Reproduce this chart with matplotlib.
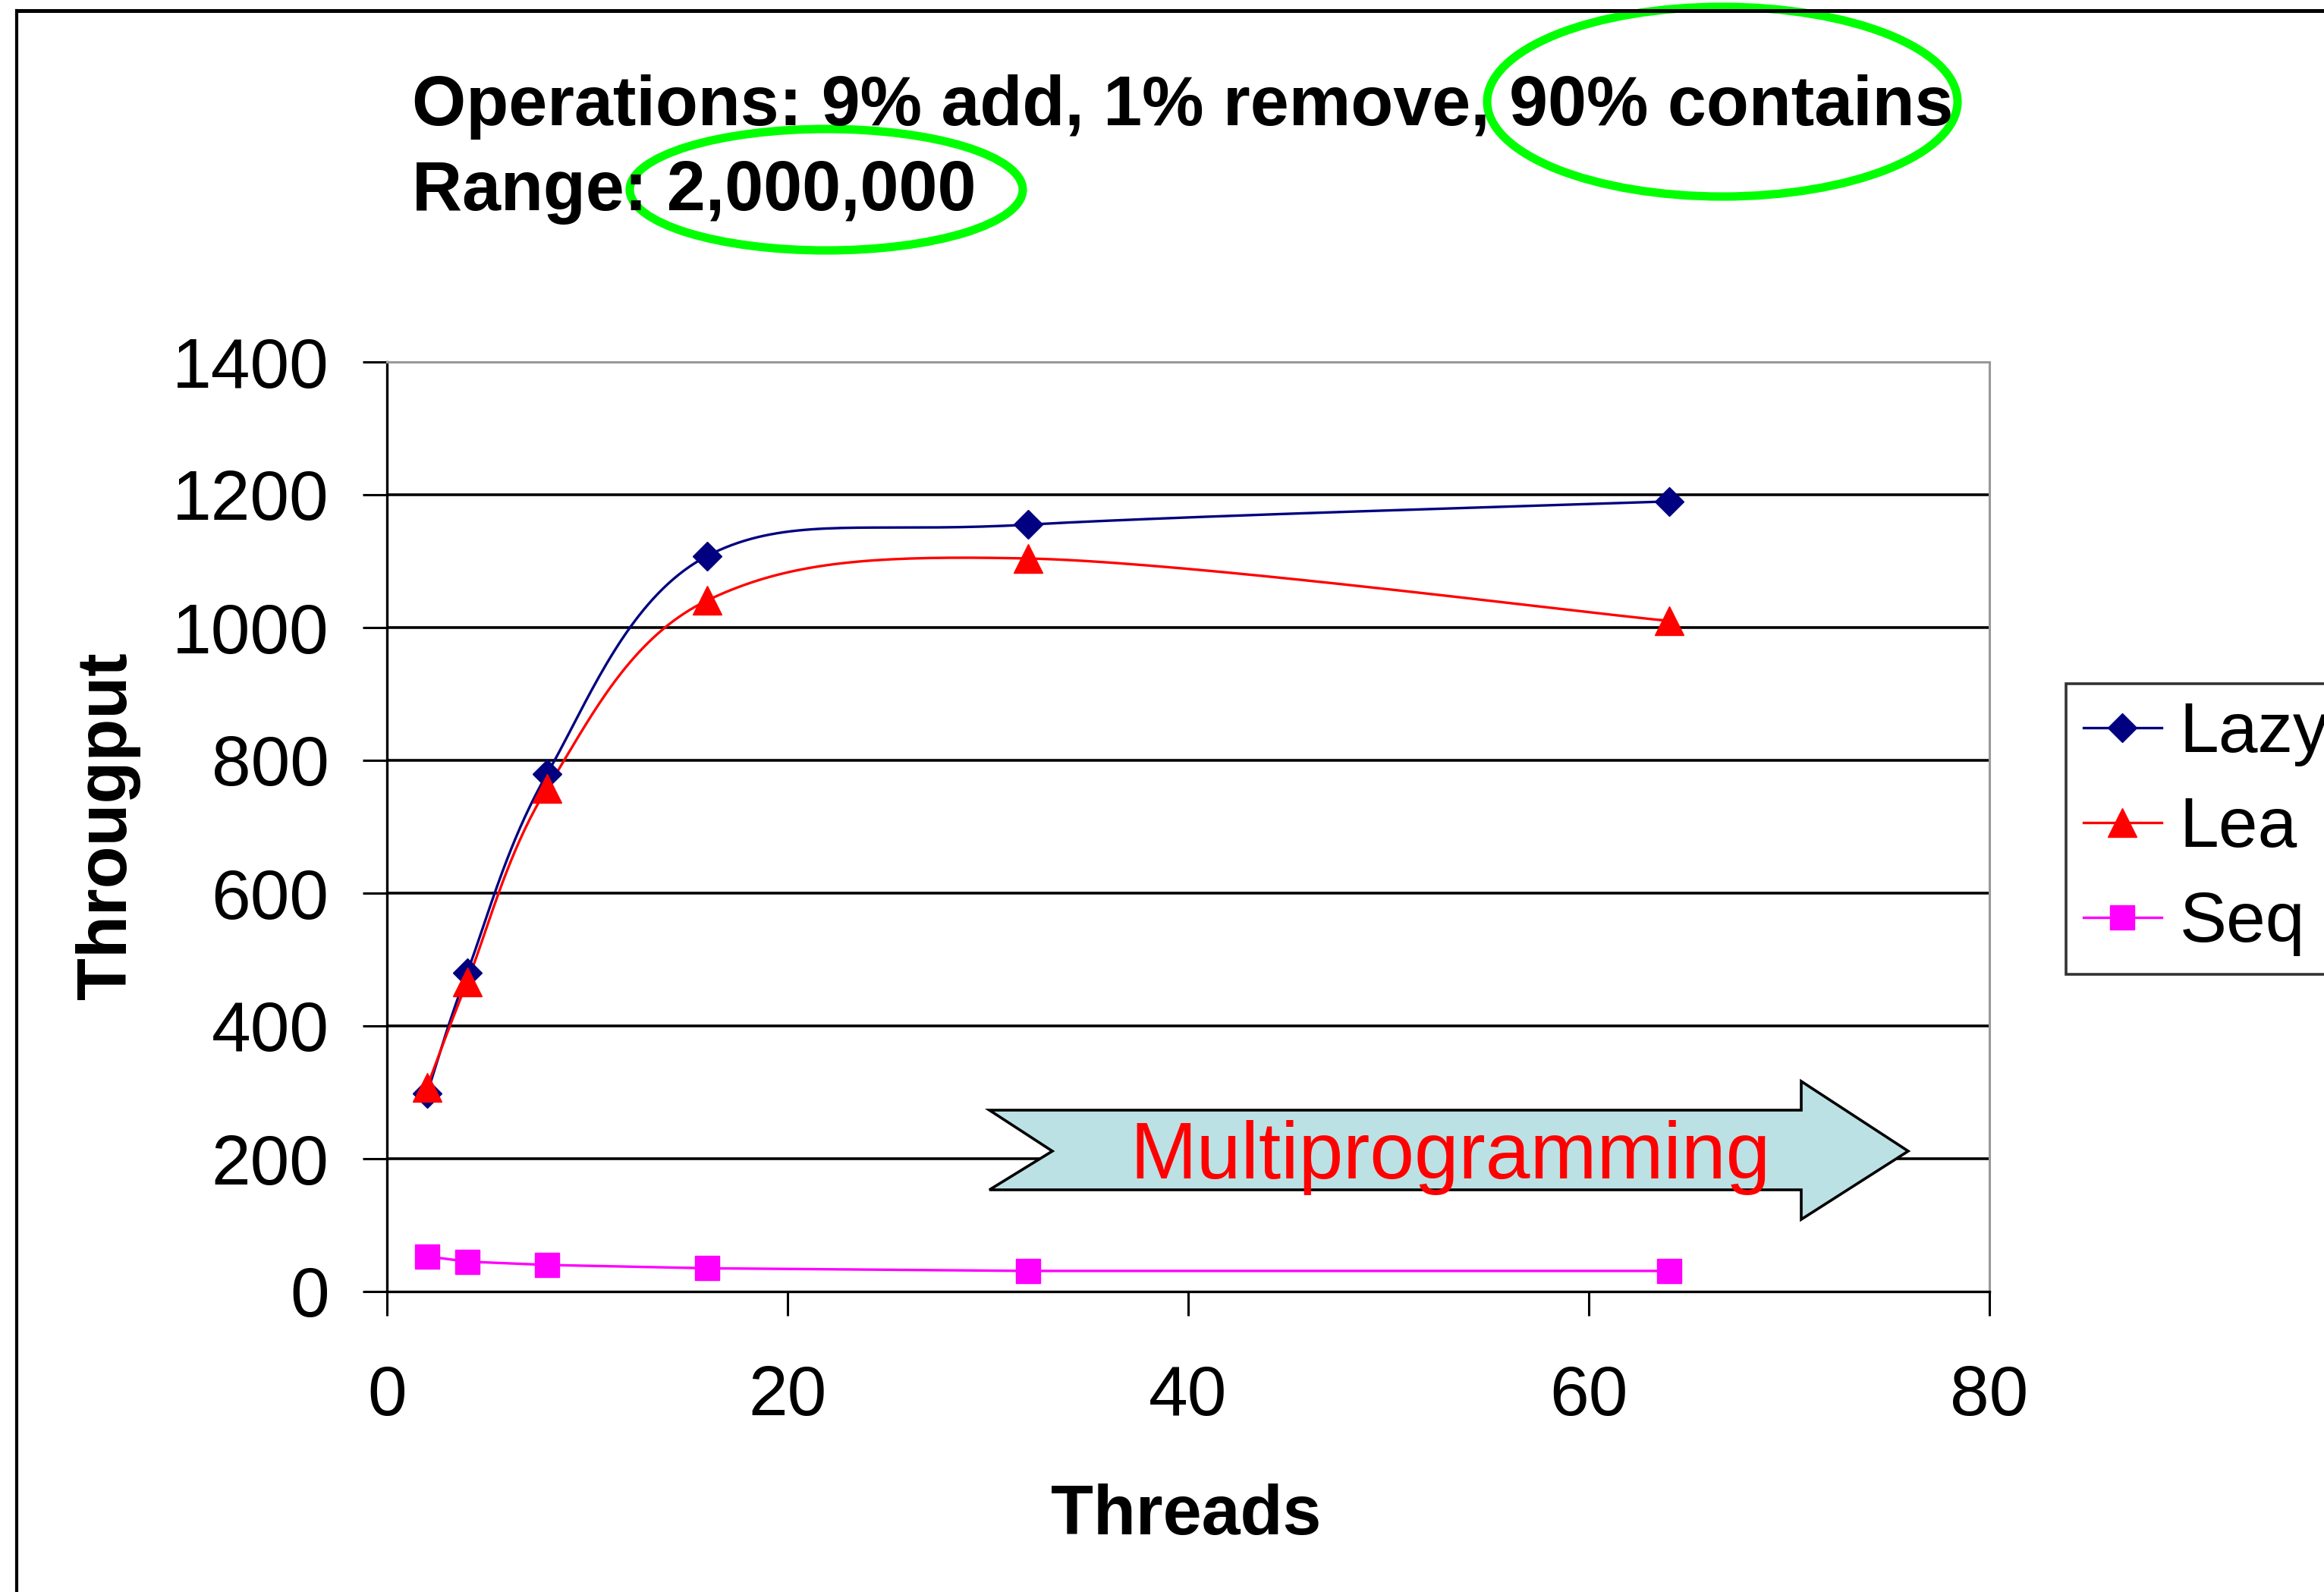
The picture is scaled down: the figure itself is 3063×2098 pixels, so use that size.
import numpy as np
import matplotlib
matplotlib.use("Agg")
import matplotlib.pyplot as plt
from matplotlib.patches import Ellipse, Polygon
from matplotlib.lines import Line2D

plt.rcParams['font.family'] = ['Liberation Sans', 'DejaVu Sans']

# ---------------- data ----------------
threads = [2, 4, 8, 16, 32, 64]
lazy = [298, 480, 780, 1108, 1155, 1190]
lea = [308, 466, 758, 1041, 1104, 1010]
seq = [53, 45, 40, 35, 31, 31]
series_names = ["Lazy", "Lea", "Seq"]
x_ticks = [0, 20, 40, 60, 80]
y_ticks = [0, 200, 400, 600, 800, 1000, 1200, 1400]
title_line1 = "Operations: 9% add, 1% remove, 90% contains"
title_line2 = "Range: 2,000,000"
x_label = "Threads"
y_label = "Througput"
arrow_text = "Multiprogramming"

W, H = 3063, 2098
fig = plt.figure(figsize=(W / 100, H / 100), dpi=100)


def fx(px):
    return px / W


def fy(py):
    return 1 - py / H


def smooth(xs, ys, n=40):
    """Excel-like smoothed line (Catmull-Rom style Bezier)."""
    xs = np.asarray(xs, float)
    ys = np.asarray(ys, float)
    P = np.column_stack([xs, ys])
    out = [P[0]]
    for i in range(len(P) - 1):
        p0 = P[i - 1] if i > 0 else P[i]
        p1 = P[i]
        p2 = P[i + 1]
        p3 = P[i + 2] if i + 2 < len(P) else P[i + 1]
        b1 = p1 + (p2 - p0) / 6.0
        b2 = p2 - (p3 - p1) / 6.0
        t = np.linspace(0, 1, n)[1:, None]
        seg = ((1 - t) ** 3) * p1 + 3 * ((1 - t) ** 2) * t * b1 + 3 * (1 - t) * t ** 2 * b2 + t ** 3 * p2
        out.extend(seg)
    out = np.array(out)
    return out[:, 0], out[:, 1]


LW = 2.4
MS_D, MS_T, MS_S = 19, 27, 23

# axes placement (pixels): left 510, right 2622, top 477, bottom 1702
ax = fig.add_axes([fx(510), fy(1702), (2622 - 510) / W, (1702 - 477) / H])
ax.set_xlim(0, 80)
ax.set_ylim(0, 1400)
ax.set_xticks(x_ticks)
ax.set_yticks(y_ticks)
ax.tick_params(axis='both', which='major', labelsize=67, direction='out',
               length=23, width=2.2, color='black')
ax.tick_params(axis='y', pad=32)
ax.tick_params(axis='x', pad=46)
ax.yaxis.grid(True, color='black', linewidth=2.6, zorder=1)
ax.set_axisbelow(True)
gl = ax.get_ygridlines()
gl[0].set_visible(False)
gl[-1].set_visible(False)
for s in ['left', 'bottom']:
    ax.spines[s].set_color('black')
    ax.spines[s].set_linewidth(2.4)
for s in ['top', 'right']:
    ax.spines[s].set_color('#999999')
    ax.spines[s].set_linewidth(2.2)

# data lines
lx, ly = smooth(threads, lazy)
ax.plot(lx, ly, color='#000080', lw=LW, zorder=4)
ax.plot(threads, lazy, linestyle='none', marker='D', ms=MS_D, color='#000080', zorder=5)
rx, ry = smooth(threads, lea)
ax.plot(rx, ry, color='#FF0000', lw=LW, zorder=4)
ax.plot(threads, lea, linestyle='none', marker='^', ms=MS_T, color='#FF0000', zorder=5)
ax.plot(threads, seq, color='#FF00FF', lw=LW, marker='s', ms=MS_S, zorder=4)

# legend (manual handles)
handles = [
    Line2D([], [], color='#000080', lw=LW, marker='D', ms=MS_D),
    Line2D([], [], color='#FF0000', lw=LW, marker='^', ms=MS_T),
    Line2D([], [], color='#FF00FF', lw=LW, marker='s', ms=MS_S),
]
leg = fig.legend(handles, series_names, loc='upper left',
                 bbox_to_anchor=(fx(2723), fy(901)), bbox_transform=fig.transFigure,
                 fontsize=67, frameon=True, fancybox=False, shadow=False,
                 edgecolor='black', borderpad=0.25, labelspacing=0.42,
                 handlelength=1.1, handletextpad=0.26, borderaxespad=0,
                 numpoints=1)
leg.get_frame().set_linewidth(2.6)

# axis labels
fig.text(fx(1563), fy(2022), x_label, fontsize=66, fontweight='bold',
         ha='center', va='baseline')
fig.text(fx(142), fy(1088), y_label, fontsize=66, fontweight='bold',
         ha='center', va='center', rotation=90)

# title text
fig.text(fx(543), fy(165), title_line1, fontsize=66, fontweight='bold',
         ha='left', va='baseline')
fig.text(fx(543), fy(277), title_line2, fontsize=66, fontweight='bold',
         ha='left', va='baseline')

# Multiprogramming arrow (annotation shape)
arrow_px = [(1304, 1463), (2374, 1463), (2374, 1425), (2515, 1517),
            (2374, 1607), (2374, 1568), (1304, 1568), (1387, 1517)]
arrow_pts = [(fx(x), fy(y)) for x, y in arrow_px]
fig.patches.append(Polygon(arrow_pts, closed=True, transform=fig.transFigure,
                           facecolor='#BCE1E4', edgecolor='black', lw=2.6,
                           zorder=3, figure=fig))
fig.text(fx(1912), fy(1553), arrow_text, fontsize=76, color='#FF0000',
         ha='center', va='baseline', zorder=6)

# slide frame lines
fig.add_artist(Line2D([fx(22), fx(3063)], [fy(14), fy(14)], color='black', lw=3.6,
                      transform=fig.transFigure))
fig.add_artist(Line2D([fx(22), fx(22)], [fy(14), fy(2098)], color='black', lw=3.0,
                      transform=fig.transFigure))

# green highlight ellipses
e1 = Ellipse((fx(2270), fy(134)), 620 / W, 250 / H, transform=fig.transFigure,
             facecolor='none', edgecolor='#00FF00', lw=8)
e2 = Ellipse((fx(1089), fy(250)), 518 / W, 160 / H, transform=fig.transFigure,
             facecolor='none', edgecolor='#00FF00', lw=8)
fig.add_artist(e1)
fig.add_artist(e2)

fig.savefig('out.png', dpi=100)
